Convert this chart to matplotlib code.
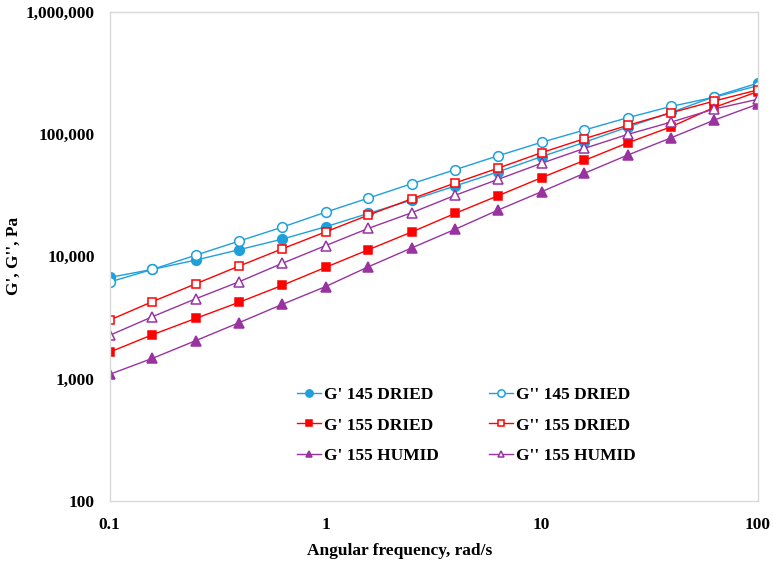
import matplotlib
matplotlib.use('Agg')
import matplotlib.pyplot as plt
from matplotlib.ticker import FuncFormatter, NullLocator, FixedLocator

plt.rcParams['font.family'] = 'Liberation Serif'
plt.rcParams['font.weight'] = 'bold'
plt.rcParams['font.size'] = 12.5

# angular frequency, rad/s
freq = [0.1, 0.158, 0.251, 0.398, 0.631, 1.0, 1.58, 2.51, 3.98, 6.31,
        10.0, 15.8, 25.1, 39.8, 63.1, 100.0]

# moduli in Pa
g1_145_dried = [6700, 7800, 9300, 11300, 13800, 17400, 22400, 28800, 37500, 49100,
                65200, 85500, 114000, 150000, 202000, 260000]
g2_145_dried = [6150, 7800, 10200, 13300, 17300, 22900, 29900, 39200, 51000, 66400,
                85500, 107700, 136000, 168000, 200000, 248000]
g1_155_dried = [1640, 2280, 3100, 4200, 5780, 8100, 11300, 15800, 22400, 31300,
                43900, 60800, 84700, 114500, 165000, 222000]
g2_155_dried = [3000, 4250, 5950, 8300, 11500, 15800, 21700, 29500, 39700, 52600,
                70300, 91500, 117700, 149000, 186000, 229000]
g1_155_humid = [1080, 1460, 2040, 2860, 4040, 5640, 8200, 11700, 16600, 23900,
                33700, 47700, 67300, 93000, 130000, 175000]
g2_155_humid = [2250, 3200, 4490, 6180, 8750, 12200, 16900, 22700, 31500, 42600,
                57600, 76200, 99300, 125000, 160000, 192000]

blue = '#1FA0DB'
red = '#FF0000'
purple = '#9933A0'

fig = plt.figure(figsize=(7.73, 5.66), dpi=100)
ax = fig.add_axes([0.1417, 0.1154, 0.8383, 0.8639])

# (values, label, marker, color, filled)
series = [
    (g1_145_dried, "G' 145 DRIED", 'o', blue, True),
    (g2_145_dried, "G'' 145 DRIED", 'o', blue, False),
    (g1_155_dried, "G' 155 DRIED", 's', red, True),
    (g2_155_dried, "G'' 155 DRIED", 's', red, False),
    (g1_155_humid, "G' 155 HUMID", '^', purple, True),
    (g2_155_humid, "G'' 155 HUMID", '^', purple, False),
]

sizes = {'o': 7, 's': 6.2, '^': 6.5}
lines = {}
for vals, label, mk, col, filled in series:
    ln, = ax.plot(freq, vals, marker=mk, color=col, linewidth=1.0,
                  markersize=sizes[mk], markeredgewidth=1.1,
                  markerfacecolor=col if filled else 'white',
                  markeredgecolor=col, label=label)
    lines[label] = ln

ax.set_xscale('log')
ax.set_yscale('log')
ax.set_xlim(0.1, 100)
ax.set_ylim(100, 1e6)

ax.xaxis.set_major_locator(FixedLocator([0.1, 1, 10, 100]))
ax.yaxis.set_major_locator(FixedLocator([100, 1e3, 1e4, 1e5, 1e6]))
ax.xaxis.set_minor_locator(NullLocator())
ax.yaxis.set_minor_locator(NullLocator())
ax.xaxis.set_major_formatter(FuncFormatter(lambda v, p: f'{v:g}'))
ax.yaxis.set_major_formatter(FuncFormatter(lambda v, p: f'{v:,.0f}'))
ax.tick_params(axis='both', length=0, labelsize=12.5)
ax.tick_params(axis='y', pad=10.5)
ax.tick_params(axis='x', pad=12)

for sp in ax.spines.values():
    sp.set_color('#D9D9D9')
    sp.set_linewidth(1.0)

ax.set_xlabel('Angular frequency, rad/s', fontweight='bold')
ax.set_ylabel("G', G'', Pa", fontweight='bold')
ax.xaxis.set_label_coords(0.448, -0.087)
ax.yaxis.set_label_coords(-0.136, 0.5)

order = ["G' 145 DRIED", "G' 155 DRIED", "G' 155 HUMID",
         "G'' 145 DRIED", "G'' 155 DRIED", "G'' 155 HUMID"]
fig.legend([lines[k] for k in order], order, ncol=2, frameon=False,
           loc='upper left', bbox_to_anchor=(0.384, 0.316),
           borderpad=0, borderaxespad=0, handlelength=1.4, handletextpad=0.15,
           columnspacing=2.9, labelspacing=0.81, markerscale=0.75,
           prop={'family': 'Liberation Serif', 'weight': 'bold', 'size': 12.5})

fig.savefig('out.png', dpi=100)
